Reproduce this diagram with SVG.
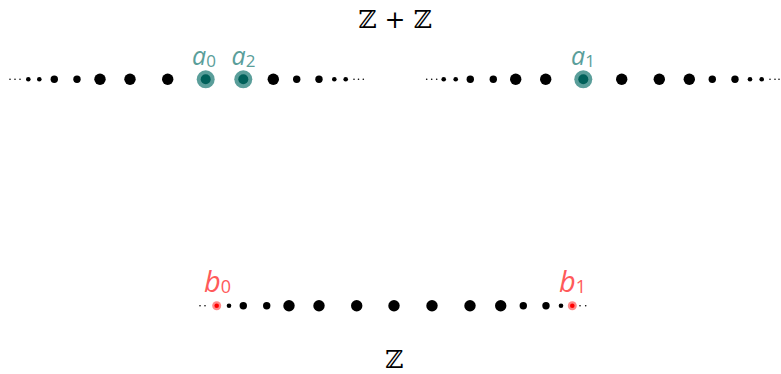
<svg xmlns="http://www.w3.org/2000/svg" width="781" height="374" viewBox="0 0 781 374">
<style>
.lbl{font-family:"Open Sans",sans-serif;font-style:italic}
.sub{font-style:normal}
.a{fill:#5a9e9a}
.b{fill:#ff5a5a}
.Z{font-family:"DejaVu Serif",serif;font-size:25px;fill:#000}
</style>
<rect width="781" height="374" fill="#fff"/>
<text class="Z" x="395" y="28" text-anchor="middle">ℤ + ℤ</text>
<text class="Z" x="394" y="368" text-anchor="middle">ℤ</text>
<g id="row-top-left">
<circle cx="10" cy="79.3" r="0.8"/><circle cx="15" cy="79.3" r="0.8"/><circle cx="20" cy="79.3" r="0.8"/>
<circle cx="28.3" cy="79.3" r="2.3"/><circle cx="39.3" cy="79.3" r="2.3"/>
<circle cx="54.3" cy="79.3" r="3.7"/><circle cx="77" cy="79.3" r="3.7"/>
<circle cx="100" cy="79.3" r="5.7"/><circle cx="130" cy="79.3" r="5.7"/><circle cx="167.7" cy="79.3" r="5.7"/>
<circle cx="273.3" cy="79.3" r="5.7"/>
<circle cx="296.7" cy="79.3" r="3.7"/><circle cx="319" cy="79.3" r="3.7"/>
<circle cx="334.3" cy="79.3" r="2.3"/><circle cx="345.7" cy="79.3" r="2.3"/>
<circle cx="354" cy="79.3" r="0.8"/><circle cx="358.5" cy="79.3" r="0.8"/><circle cx="363.3" cy="79.3" r="0.8"/>
</g>
<g id="row-top-right">
<circle cx="426.7" cy="79.3" r="0.8"/><circle cx="431.7" cy="79.3" r="0.8"/><circle cx="436.7" cy="79.3" r="0.8"/>
<circle cx="443.7" cy="79.3" r="2.3"/><circle cx="455.7" cy="79.3" r="2.3"/>
<circle cx="470.3" cy="79.3" r="3.7"/><circle cx="493.3" cy="79.3" r="3.7"/>
<circle cx="515.7" cy="79.3" r="5.7"/><circle cx="545.7" cy="79.3" r="5.7"/>
<circle cx="621.7" cy="79.3" r="5.7"/><circle cx="659.3" cy="79.3" r="5.7"/><circle cx="689.3" cy="79.3" r="5.7"/>
<circle cx="712.3" cy="79.3" r="3.7"/><circle cx="735" cy="79.3" r="3.7"/>
<circle cx="750" cy="79.3" r="2.3"/><circle cx="761.7" cy="79.3" r="2.3"/>
<circle cx="770" cy="79.3" r="0.8"/><circle cx="775" cy="79.3" r="0.8"/><circle cx="779" cy="79.3" r="0.8"/>
</g>
<g id="row-bottom">
<circle cx="200" cy="305.7" r="0.8"/><circle cx="205" cy="305.7" r="0.8"/>
<circle cx="229" cy="305.7" r="2.3"/>
<circle cx="243.3" cy="305.7" r="3.7"/><circle cx="266.7" cy="305.7" r="3.7"/>
<circle cx="289" cy="305.7" r="5.7"/><circle cx="319" cy="305.7" r="5.7"/><circle cx="356.7" cy="305.7" r="5.7"/>
<circle cx="394" cy="305.7" r="5.7"/><circle cx="432" cy="305.7" r="5.7"/><circle cx="470" cy="305.7" r="5.7"/><circle cx="500.7" cy="305.7" r="5.7"/>
<circle cx="523.3" cy="305.7" r="3.7"/><circle cx="546" cy="305.7" r="3.7"/>
<circle cx="561" cy="305.7" r="2.3"/>
<circle cx="580" cy="305.7" r="0.8"/><circle cx="585.7" cy="305.7" r="0.8"/>
</g>
<g id="a0">
<circle cx="205.7" cy="79.3" r="9" fill="#5a9e9a"/><circle cx="205.7" cy="79.3" r="5" fill="#00605a"/>
<text class="lbl a" x="192" y="65" font-size="25">a<tspan class="sub" font-size="17" dy="2">0</tspan></text>
</g>
<g id="a2">
<circle cx="243.3" cy="79.3" r="9" fill="#5a9e9a"/><circle cx="243.3" cy="79.3" r="5" fill="#00605a"/>
<text class="lbl a" x="231.5" y="65" font-size="25">a<tspan class="sub" font-size="17" dy="2">2</tspan></text>
</g>
<g id="a1">
<circle cx="583.3" cy="79.3" r="9" fill="#5a9e9a"/><circle cx="583.3" cy="79.3" r="5" fill="#00605a"/>
<text class="lbl a" x="571" y="65" font-size="25">a<tspan class="sub" font-size="17" dy="2">1</tspan></text>
</g>
<g id="b0">
<circle cx="216.7" cy="305.7" r="4.5" fill="#ff8a8a"/><circle cx="216.7" cy="305.7" r="2.3" fill="#ff0000"/>
<text class="lbl b" x="204" y="292" font-size="29">b<tspan class="sub" font-size="18" dy="1">0</tspan></text>
</g>
<g id="b1">
<circle cx="572.3" cy="305.7" r="4.5" fill="#ff8a8a"/><circle cx="572.3" cy="305.7" r="2.3" fill="#ff0000"/>
<text class="lbl b" x="559" y="292" font-size="29">b<tspan class="sub" font-size="18" dy="1">1</tspan></text>
</g>
<g id="connectors"/>
</svg>
